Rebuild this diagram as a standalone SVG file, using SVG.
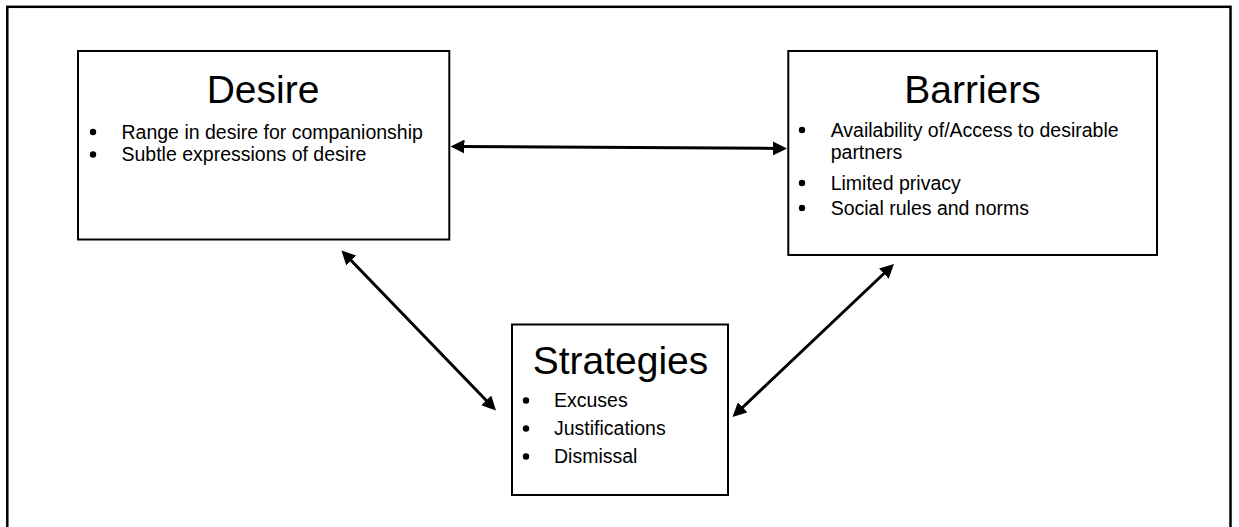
<svg xmlns="http://www.w3.org/2000/svg" width="1239" height="527" viewBox="0 0 1239 527">
  <style>
    .frame { fill: none; stroke: #000; stroke-width: 2.5; }
    .box { fill: #fff; stroke: #000; stroke-width: 2; }
    .title { font-family: "Liberation Sans", Arial, sans-serif; font-size: 39px; fill: #000; text-anchor: middle; }
    .item { font-family: "Liberation Sans", Arial, sans-serif; font-size: 19.5px; fill: #000; }
    .dot { fill: #000; }
    .link { stroke: #000; stroke-width: 3; fill: none; marker-start: url(#head); marker-end: url(#head); }
  </style>
  <defs>
    <marker id="head" viewBox="0 0 14 14" refX="6" refY="7" markerWidth="14" markerHeight="14" markerUnits="userSpaceOnUse" orient="auto-start-reverse">
      <path d="M0,0 L14,7 L0,14 Z" fill="#000"/>
    </marker>
  </defs>

  <rect width="1239" height="527" fill="#fff"/>
  <rect class="frame" x="7.3" y="6.8" width="1223.2" height="530"/>

  <g id="connectors">
    <line class="link" x1="458.5" y1="146.55" x2="779" y2="148.45"/>
    <line class="link" x1="347.06" y1="256.26" x2="490.44" y2="404.74"/>
    <line class="link" x1="888.19" y1="269.5" x2="738.31" y2="411.5"/>
  </g>

  <g id="desire">
    <rect class="box" x="78" y="51" width="371.3" height="188.5"/>
    <text class="title" x="263" y="103.3">Desire</text>
    <circle class="dot" cx="93" cy="132" r="3.2"/>
    <text class="item" x="121.5" y="138.5">Range in desire for companionship</text>
    <circle class="dot" cx="93" cy="154.5" r="3.2"/>
    <text class="item" x="121.5" y="161">Subtle expressions of desire</text>
  </g>

  <g id="barriers">
    <rect class="box" x="788.3" y="51" width="368.7" height="204"/>
    <text class="title" x="972.5" y="103.3">Barriers</text>
    <circle class="dot" cx="802" cy="130" r="3.2"/>
    <text class="item" x="830.7" y="136.5">Availability of/Access to desirable</text>
    <text class="item" x="830.7" y="159">partners</text>
    <circle class="dot" cx="802" cy="183" r="3.2"/>
    <text class="item" x="830.7" y="189.5">Limited privacy</text>
    <circle class="dot" cx="802" cy="208" r="3.2"/>
    <text class="item" x="830.7" y="214.5">Social rules and norms</text>
  </g>

  <g id="strategies">
    <rect class="box" x="512" y="324.5" width="216" height="170.5"/>
    <text class="title" x="620.5" y="374">Strategies</text>
    <circle class="dot" cx="526" cy="400.5" r="3.2"/>
    <text class="item" x="554" y="406.5">Excuses</text>
    <circle class="dot" cx="526" cy="428.5" r="3.2"/>
    <text class="item" x="554" y="435">Justifications</text>
    <circle class="dot" cx="526" cy="456.5" r="3.2"/>
    <text class="item" x="554" y="463">Dismissal</text>
  </g>
</svg>
